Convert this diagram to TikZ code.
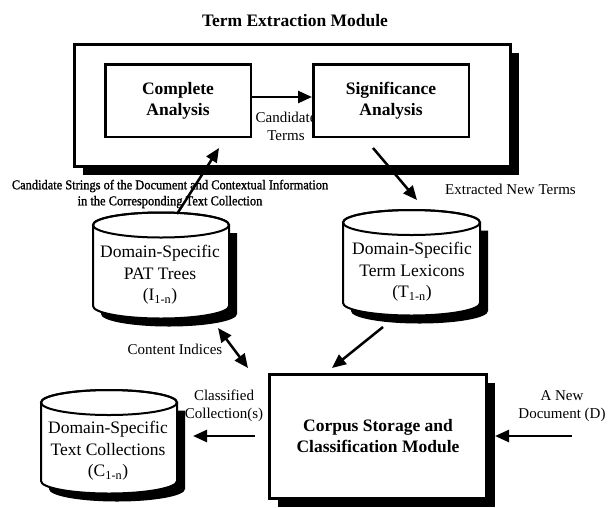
\documentclass[tikz,border=0pt]{standalone}
\usepackage{fontspec}
\setmainfont{Liberation Serif}
\newfontfamily\condfont[FakeBold=1.2,FakeStretch=0.92]{Liberation Serif}
\usetikzlibrary{arrows.meta,shadows}

% database cylinder: #1 centre x, #2 half width, #3 top centre y, #4 bottom centre y
\newcommand\dbcyl[4]{%
  \fill[black,shift={(8,8)}] (#1-#2,#3) -- (#1-#2,#4)
    arc[start angle=180,end angle=0,x radius=#2,y radius=12.5] -- (#1+#2,#3) -- cycle;
  \draw[cylline,fill=white] (#1-#2,#3) -- (#1-#2,#4)
    arc[start angle=180,end angle=0,x radius=#2,y radius=12.5] -- (#1+#2,#3)
    arc[start angle=0,end angle=-180,x radius=#2,y radius=12.5] -- cycle;
  \draw[cylline] (#1,#3) ellipse[x radius=#2,y radius=12.5];
}

\begin{document}
\begin{tikzpicture}[x=1pt,y=-1pt,
  box/.style={draw,line width=2.5pt,fill=white,align=center,inner sep=0pt},
  shadowed/.style={drop shadow={shadow xshift=8pt,shadow yshift=-8pt,opacity=1,fill=black}},
  cylline/.style={line width=2pt},
  arr/.style={line width=2.5pt,-{Triangle[length=14pt,width=12pt]}},
  darr/.style={line width=2.5pt,{Triangle[length=14pt,width=12pt]}-{Triangle[length=14pt,width=12pt]}},
  lbl/.style={font=\fontsize{15}{18}\selectfont,align=center,inner sep=0pt},
  head/.style={font=\bfseries\fontsize{17.5}{21}\selectfont,align=center,inner sep=0pt},
  cyltext/.style={font=\fontsize{17.5}{21.5}\selectfont,align=center,inner sep=0pt},
  small/.style={font=\condfont\fontsize{13.5}{16}\selectfont,align=center,inner sep=0pt}]
\useasboundingbox (0,0) rectangle (608,507);
\fill[white] (0,0) rectangle (608,507);

% term extraction module
\node[head] (title) at (295,21) {Term Extraction Module};
\node[box,shadowed,line width=3pt,minimum width=436pt,minimum height=122pt] (tem) at (292.5,105.5) {};
\node[box,head,minimum width=145.5pt,minimum height=72.5pt] (ca) at (178,100.5) {Complete\\Analysis};
\node[lbl] (cterms) at (286,126) {Candidate\\Terms};
\node[box,head,minimum width=155.5pt,minimum height=72.5pt] (sa) at (391,100.5) {Significance\\Analysis};
\draw[arr] ([yshift=3.5pt]ca.east) -- ([yshift=3.5pt]sa.west);

% databases
\dbcyl{161}{68}{225}{306}
\node[cyltext] (pat) at (160,275) {Domain-Specific\\PAT Trees\\(I\textsubscript{1-n})};
\dbcyl{411.5}{68.5}{222.5}{303}
\node[cyltext] (lex) at (412,272) {Domain-Specific\\Term Lexicons\\(T\textsubscript{1-n})};
\dbcyl{109}{68}{402.5}{481}
\node[cyltext] (txt) at (108,451) {Domain-Specific\\Text Collections\\(C\textsubscript{1-n})};

% corpus storage and classification module
\node[box,head,shadowed,line width=3pt,minimum width=217pt,minimum height=124pt] (csc) at (378,436.5)
  {Corpus Storage and\\Classification Module};

% labels
\node[small] (cstr) at (170,194) {Candidate Strings of the Document and Contextual Information\\in the Corresponding Text Collection};
\node[lbl] (ent) at (510.5,189) {Extracted New Terms};
\node[lbl] (ci) at (175,349) {Content Indices};
\node[lbl] (cc) at (224,406) {Classified\\Collection(s)};
\node[lbl] (nd) at (562,406) {A New\\Document (D)};

% connector end points
\coordinate (pat-out) at (177,214);
\coordinate (ca-in) at (219,148);
\coordinate (sa-out) at (373,148);
\coordinate (lex-in) at (417,200);
\coordinate (pat-io) at (218,328);
\coordinate (csc-io) at (248,368);
\coordinate (lex-out) at (383,327);
\coordinate (csc-in) at (332,368);
\coordinate (csc-out) at (255,436);
\coordinate (txt-in) at (193,436);
\coordinate (doc) at (572,436);
\coordinate (csc-doc) at (495,436);

\draw[arr] (pat-out) -- (ca-in);
\draw[arr] (sa-out) -- (lex-in);
\draw[darr] (pat-io) -- (csc-io);
\draw[arr] (lex-out) -- (csc-in);
\draw[arr] (csc-out) -- (txt-in);
\draw[arr] (doc) -- (csc-doc);
\end{tikzpicture}
\end{document}
